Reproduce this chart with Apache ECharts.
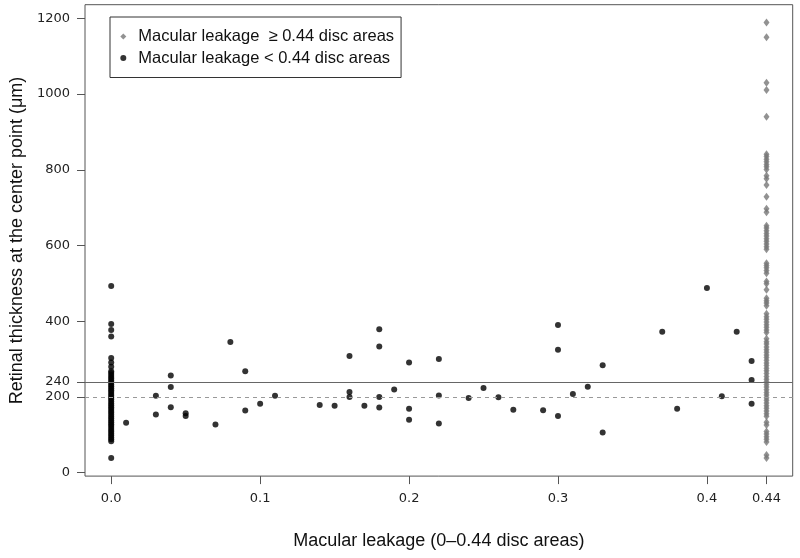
<!DOCTYPE html>
<html>
<head>
<meta charset="utf-8">
<script src="https://cdn.jsdelivr.net/npm/echarts@6/dist/echarts.min.js"></script>
<style>
html,body{margin:0;padding:0;background:#fff;}
#chart{width:800px;height:558px;}
</style>
</head>
<body>
<div id="chart"></div>
<script>
// ---- data ----
var xTickValues = [0, 0.1, 0.2, 0.3, 0.4, 0.44];
var yTickValues = [0, 200, 240, 400, 600, 800, 1000, 1200];
var refLineSolid = 240;
var refLineDashed = 200;

var highLeakName = 'Macular leakage  \u2265 0.44 disc areas';
var lowLeakName = 'Macular leakage < 0.44 disc areas';

// leakage >= 0.44 disc areas (all plotted at x = 0.44)
var highLeakX = 0.44;
var highLeakY = [1189, 1150, 1030, 1011, 940, 841, 835, 828, 821, 814, 808, 801, 784, 776, 760,
  729, 697, 688, 652, 646, 639, 632, 625, 618, 611, 604, 597, 590, 553, 547, 541, 534, 527,
  505, 499, 483, 461, 454, 448, 441, 420, 412, 405, 398, 391, 384, 377, 370, 354, 346, 340,
  332, 325, 318, 311, 304, 297, 290, 283, 276, 269, 262, 254, 247, 240, 233, 226, 219, 212,
  205, 198, 191, 184, 177, 170, 163, 156, 149, 133, 126, 109, 102, 95, 88, 81, 47, 39];

// leakage < 0.44 disc areas
var lowLeakX = [
  0, 0, 0, 0, 0, 0, 0, 0, 0, 0, 0, 0, 0, 0, 0, 0, 0, 0, 0, 0, 0, 0, 0, 0, 0, 0, 0, 0, 0, 0,
  0, 0, 0, 0, 0, 0, 0, 0, 0, 0, 0, 0, 0, 0, 0, 0,
  0.01, 0.03, 0.03, 0.04, 0.04, 0.04, 0.05, 0.05, 0.07, 0.08, 0.09, 0.09, 0.10, 0.11,
  0.14, 0.15, 0.16, 0.16, 0.16, 0.17, 0.18, 0.18, 0.18, 0.18, 0.19, 0.20, 0.20, 0.20,
  0.22, 0.22, 0.22, 0.24, 0.25, 0.26, 0.27, 0.29, 0.30, 0.30, 0.30, 0.31, 0.32, 0.33, 0.33,
  0.37, 0.38, 0.40, 0.41, 0.42, 0.43, 0.43, 0.43];
var lowLeakY = [
  493, 393, 377, 360, 303, 291, 280, 268, 263, 258, 253, 248, 243, 238, 233, 228, 223, 218, 213, 208,
  203, 198, 193, 188, 183, 178, 173, 168, 163, 158, 153, 148, 143, 138, 133, 128, 123, 118, 113, 108,
  103, 98, 93, 88, 83, 39,
  132, 203, 154, 257, 226, 173, 157, 150, 127, 345, 268, 164, 182, 203,
  179, 177, 308, 213, 200, 177, 379, 333, 200, 172, 220, 291, 169, 140,
  300, 204, 130, 197, 224, 199, 166, 165, 390, 325, 150, 208, 227, 284, 106,
  372, 169, 488, 202, 372, 295, 245, 182];

var highData = highLeakY.map(function (v) { return [highLeakX, v]; });
var lowData = lowLeakX.map(function (x, i) { return [x, lowLeakY[i]]; });

var tickFont = 'DejaVu Sans';
var titleFont = 'Liberation Sans, Arial, sans-serif';

var chart = echarts.init(document.getElementById('chart'), null, {renderer: 'canvas'});
chart.setOption({
  animation: false,
  backgroundColor: '#fff',
  grid: {
    left: 83.3, right: 7.3, top: 4.7, bottom: 81.9,
    show: true, borderColor: '#555', borderWidth: 1, backgroundColor: 'transparent'
  },
  legend: {
    orient: 'vertical',
    left: 110, top: 17,
    padding: [11, 7, 11, 10.3],
    itemGap: 4.5,
    itemWidth: 6, itemHeight: 6,
    borderColor: '#333', borderWidth: 1, borderRadius: 0,
    textStyle: {fontFamily: titleFont, fontSize: 16.5, color: '#111', lineHeight: 15, padding: [0, 0, 0, 7]},
    data: [{name: highLeakName, icon: 'diamond'}, {name: lowLeakName, icon: 'circle'}]
  },
  xAxis: {
    type: 'value',
    min: -0.0176, max: 0.4576,
    name: 'Macular leakage (0\u20130.44 disc areas)',
    nameLocation: 'middle', nameGap: 56,
    nameTextStyle: {fontFamily: titleFont, fontSize: 18, color: '#111'},
    axisLine: {show: false, onZero: false},
    splitLine: {show: false},
    axisTick: {show: true, inside: false, length: 8, customValues: xTickValues, lineStyle: {color: '#555'}},
    axisLabel: {
      customValues: xTickValues, margin: 16,
      fontFamily: tickFont, fontSize: 13, color: '#222',
      formatter: function (v) { return v === 0 ? '0.0' : String(v); }
    }
  },
  yAxis: {
    type: 'value',
    min: -9, max: 1236,
    name: 'Retinal thickness at the center point (\u03bcm)',
    nameLocation: 'middle', nameGap: 59,
    nameTextStyle: {fontFamily: titleFont, fontSize: 18, color: '#111'},
    axisLine: {show: false, onZero: false},
    splitLine: {show: false},
    axisTick: {show: true, inside: false, length: 8, customValues: yTickValues, lineStyle: {color: '#555'}},
    axisLabel: {
      customValues: yTickValues, margin: 15,
      fontFamily: tickFont, fontSize: 13, color: '#222',
      formatter: function (v) { return String(v); }
    }
  },
  series: [
    {
      name: highLeakName,
      type: 'scatter',
      symbol: 'diamond',
      symbolSize: [6, 8],
      itemStyle: {color: '#777'},
      data: highData,
      z: 3
    },
    {
      name: lowLeakName,
      type: 'scatter',
      symbol: 'circle',
      symbolSize: 6,
      itemStyle: {color: '#000'},
      data: lowData,
      z: 4,
      markLine: {
        silent: true,
        symbol: ['none', 'none'],
        label: {show: false},
        animation: false,
        data: [
          {yAxis: refLineSolid, lineStyle: {color: '#666', width: 1.2, type: 'solid'}},
          {yAxis: refLineDashed, lineStyle: {color: '#999', width: 1, type: [4, 4]}}
        ]
      }
    }
  ]
});
</script>
</body>
</html>
